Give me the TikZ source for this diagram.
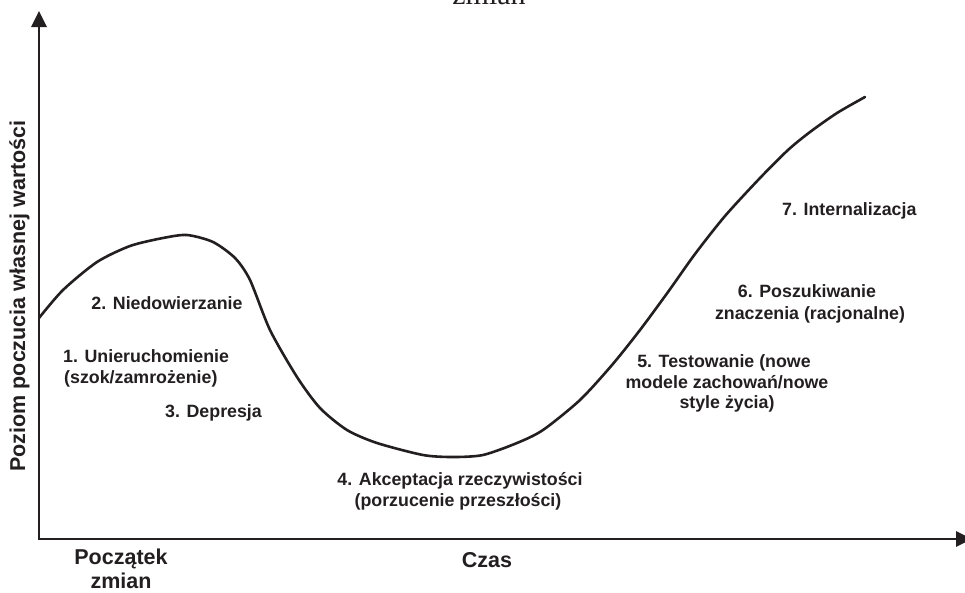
\documentclass[tikz,border=0pt]{standalone}
\usepackage{fontspec}
\setmainfont{Liberation Sans}
\newfontfamily\serifface{Liberation Serif}
\usetikzlibrary{arrows.meta}
\definecolor{ink}{HTML}{231F20}

\begin{document}
\begin{tikzpicture}[x=1pt,y=-1pt,
  axis/.style={line width=2.8pt, draw=ink, line join=miter},
  curve/.style={line width=2.6pt, draw=ink, line join=round, line cap=round},
  lab/.style={inner sep=0pt, text=ink, font=\bfseries\fontsize{17.8}{21}\selectfont},
  axlab/.style={inner sep=0pt, text=ink, font=\bfseries\fontsize{21.5}{24}\selectfont}]
\useasboundingbox (0,0) rectangle (965,592);

% caption line running in from above
\node[inner sep=0pt, anchor=base, text=ink, font=\serifface\fontsize{30}{36}\selectfont] (cap) at (489,4) {zmian};

% axes
\coordinate (origin) at (39,539);
\coordinate (ytip) at (39,11);
\coordinate (xtip) at (972,539);
\draw[axis, {Triangle[length=16pt,width=15pt]}-{Triangle[length=16pt,width=15pt]}] (ytip) -- (origin) -- (xtip);

% self-esteem curve over time
\draw[curve] plot[smooth, tension=0.45] coordinates {
  (39,318) (63,290) (97,262) (130,246) (163,238) (187,235) (213,242)
  (235,258) (250,280) (270,330) (297,377) (320,408) (347,430) (377,443)
  (423,455) (453,457) (483,455) (517,443) (543,430) (580,400) (612,365)
  (640,330) (668,292) (695,254) (725,216) (760,178) (788,150)
  (810,132) (837,113) (865,97)};

% axis labels
\node[axlab, rotate=90, anchor=base] (ylab) at (25,296) {Poziom poczucia własnej wartości};
\node[axlab, anchor=base] (xlab) at (487,567) {Czas};
\node[axlab, anchor=base] (starta) at (121,564) {Początek};
\node[axlab, anchor=base] (startb) at (121,588) {zmian};

% stages
\node[lab, anchor=base] (s2) at (167,309) {2. Niedowierzanie};
\node[lab, anchor=base west] (s1a) at (63,362) {1. Unieruchomienie};
\node[lab, anchor=base west] (s1b) at (64,383) {(szok/zamrożenie)};
\node[lab, anchor=base west] (s3) at (165,417) {3. Depresja};
\node[lab, anchor=base] (s4a) at (460,485) {4. Akceptacja rzeczywistości};
\node[lab, anchor=base] (s4b) at (458,506) {(porzucenie przeszłości)};
\node[lab, anchor=base] (s5a) at (724,367) {5. Testowanie (nowe};
\node[lab, anchor=base] (s5b) at (727,388) {modele zachowań/nowe};
\node[lab, anchor=base] (s5c) at (727,408) {style życia)};
\node[lab, anchor=base] (s6a) at (807,297) {6. Poszukiwanie};
\node[lab, anchor=base] (s6b) at (810,319) {znaczenia (racjonalne)};
\node[lab, anchor=base west] (s7) at (782,215) {7. Internalizacja};
\end{tikzpicture}
\end{document}
